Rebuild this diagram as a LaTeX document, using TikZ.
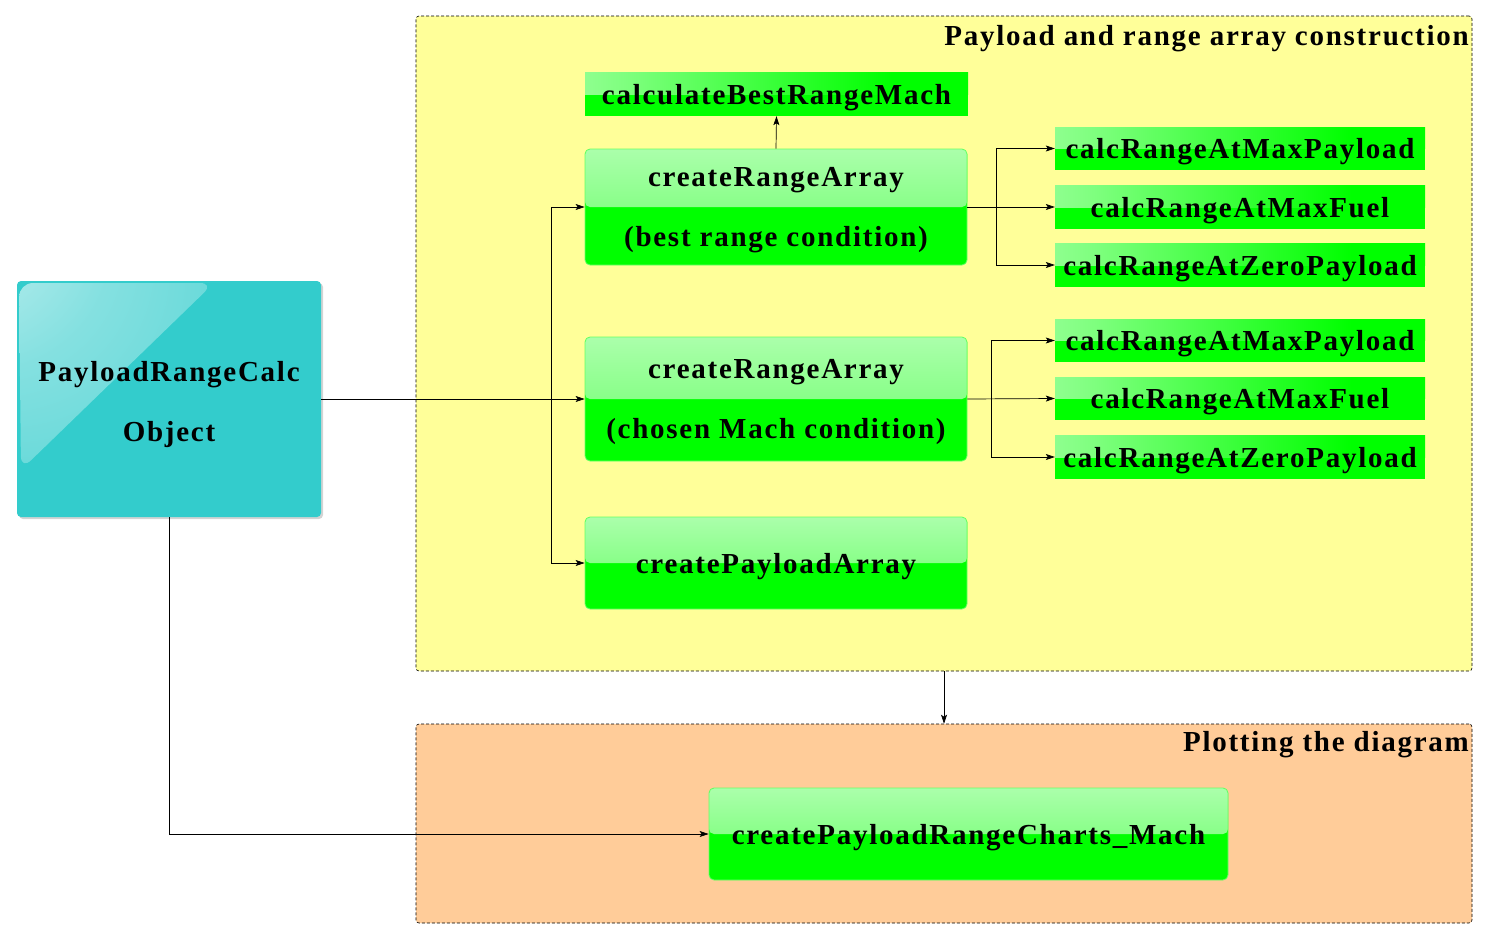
\documentclass[tikz,border=0pt]{standalone}
\usepackage{fontspec}
\setmainfont{Liberation Serif}[LetterSpace=6]
\usetikzlibrary{arrows.meta,shadows,calc}
\definecolor{gr}{HTML}{00FF00}
\definecolor{grline}{HTML}{66FF66}
\definecolor{cy}{HTML}{33CCCC}
\definecolor{yel}{HTML}{FFFF99}
\definecolor{ora}{HTML}{FFCC99}
\pgfdeclarehorizontalshading{gloss}{100bp}{color(0bp)=(green!15!white); color(30bp)=(green!50!white); color(65bp)=(gr); color(100bp)=(gr)}
\pgfdeclareradialshading{objgloss}{\pgfpoint{-50bp}{50bp}}{color(0bp)=(white!82!cy); color(32bp)=(cy!60!white); color(70bp)=(cy!88!white); color(100bp)=(cy!88!white)}
\tikzset{
  region/.style={draw=black, dash pattern=on 3pt off 2pt, rounded corners=3pt, inner sep=0pt, line width=0.6pt},
  regtitle/.style={anchor=east, inner sep=0pt, text depth=0pt},
  rbox/.style={draw=grline, fill=gr, rounded corners=5pt, line width=0.8pt, align=center, inner sep=0pt, text depth=0pt,
    path picture={\fill[top color=green!33!white, bottom color=green!60!white] (path picture bounding box.north west) rectangle (path picture bounding box.east);}},
  sbox/.style={fill=gr, inner sep=0pt, text depth=0pt,
    path picture={\shade[shading=gloss] (path picture bounding box.north west) rectangle (path picture bounding box.east);}},
  objbox/.style={fill=cy, rounded corners=4pt, align=center, inner sep=0pt,
    drop shadow={opacity=0.35, shadow xshift=2pt, shadow yshift=-2pt}},
  arr/.style={-{Stealth[length=9pt,width=6pt,inset=2pt]}, line width=0.7pt},
}
\begin{document}
\begin{tikzpicture}[x=1pt,y=-1pt, font=\fontsize{29}{60}\selectfont\bfseries]
\useasboundingbox (0,0) rectangle (1488,940);
% regions
\node[region, fill=yel, minimum width=1056, minimum height=655] (yreg) at (944,343.5) {};
\node[region, fill=ora, minimum width=1056, minimum height=199] (oreg) at (944,823.5) {};
\node[regtitle] (t1) at (1469,35) {Payload and range array construction};
\node[regtitle] (t2) at (1469,741) {Plotting the diagram};
% object
\node[objbox, minimum width=304, minimum height=236] (obj) at (169,399) {};
\begin{scope}
\clip[rounded corners=4pt] (obj.south west) rectangle (obj.north east);
\shade[shading=objgloss, rounded corners=14pt]
  (19,283) -- (214,283) -- (21,470) -- cycle;
\end{scope}
\node[align=center, inner sep=0pt, text depth=0pt] (objtxt) at (169,401) {PayloadRangeCalc\\Object};
% main column
\node[sbox, minimum width=383, minimum height=44] (cbrm) at (776.5,94) {calculateBestRangeMach};
\node[rbox, minimum width=382, minimum height=116] (cra1) at (776,207) {createRangeArray\\(best range condition)};
\node[rbox, minimum width=382, minimum height=124] (cra2) at (776,399) {createRangeArray\\(chosen Mach condition)};
\node[rbox, minimum width=382, minimum height=92] (cpa) at (776,563) {createPayloadArray};
% right column
\node[sbox, minimum width=370, minimum height=43] (rA1) at (1240,148.5) {calcRangeAtMaxPayload};
\node[sbox, minimum width=370, minimum height=44] (rA2) at (1240,207) {calcRangeAtMaxFuel};
\node[sbox, minimum width=370, minimum height=44] (rA3) at (1240,265) {calcRangeAtZeroPayload};
\node[sbox, minimum width=370, minimum height=43] (rB1) at (1240,340.5) {calcRangeAtMaxPayload};
\node[sbox, minimum width=370, minimum height=43] (rB2) at (1240,398.5) {calcRangeAtMaxFuel};
\node[sbox, minimum width=370, minimum height=44] (rB3) at (1240,457) {calcRangeAtZeroPayload};
% chart
\node[rbox, minimum width=519, minimum height=92] (chart) at (968.5,834) {createPayloadRangeCharts\_Mach};
% connectors
\coordinate (j1) at (551,399);
\coordinate (j2) at (996,207);
\coordinate (j3) at (991,399);
\draw[arr] (obj.east) -- (cra2.west);
\draw[arr] (j1) |- (cra1.west);
\draw[arr] (j1) |- (cpa.west);
\draw[arr] (cra1.north) -- (cbrm.south);
\draw[arr] (cra1.east) -- (rA2.west);
\draw[arr] (j2) |- (rA1.west);
\draw[arr] (j2) |- (rA3.west);
\draw[arr] (cra2.east) -- (rB2.west);
\draw[arr] (j3) |- (rB1.west);
\draw[arr] (j3) |- (rB3.west);
\draw[arr] (yreg.south) -- (oreg.north);
\draw[arr] (obj.south) |- (chart.west);
\end{tikzpicture}
\end{document}
